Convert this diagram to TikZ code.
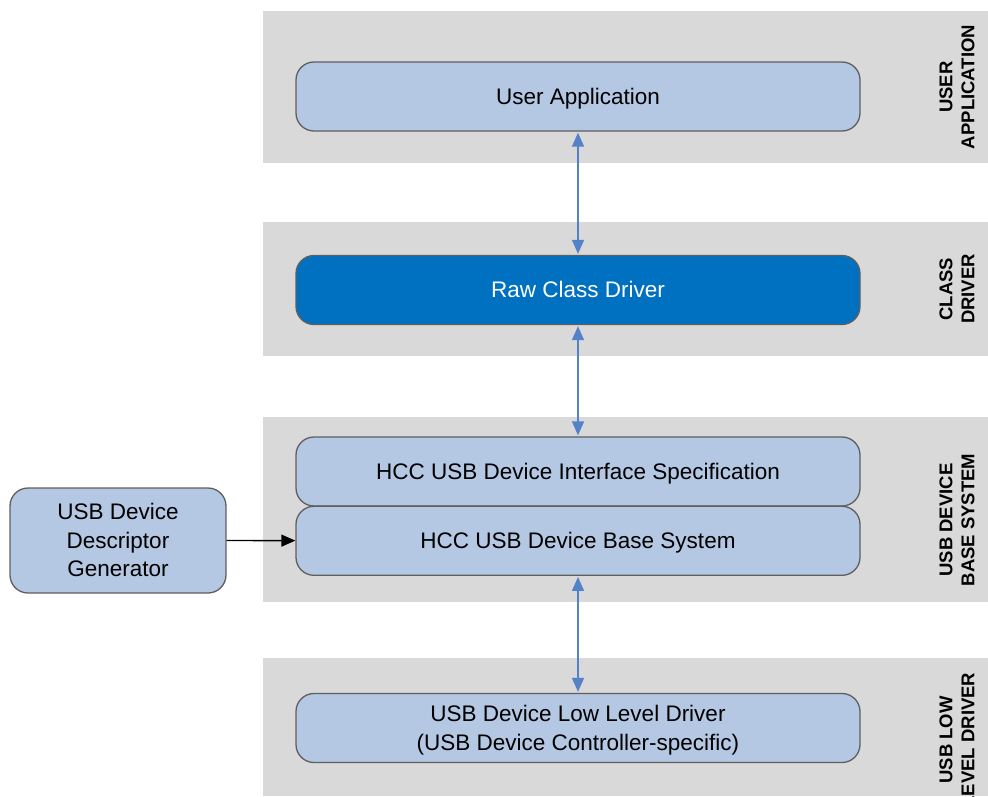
\documentclass[tikz,border=0pt]{standalone}
\usepackage{fontspec}
\setmainfont{Liberation Sans}
\usetikzlibrary{arrows.meta}
\usetikzlibrary{positioning}

\definecolor{bandgray}{RGB}{217,217,217}
\definecolor{boxblue}{RGB}{180,199,227}
\definecolor{rawblue}{RGB}{0,112,192}
\definecolor{edgegray}{RGB}{95,95,95}
\definecolor{linkblue}{RGB}{84,130,200}

\begin{document}
\begin{tikzpicture}[x=1pt, y=-1pt,
    layer/.style={rectangle, rounded corners=18pt, draw=edgegray, line width=1.3pt, fill=boxblue,
        minimum width=564pt, minimum height=69pt, align=center, text depth=1pt, font=\fontsize{22.5}{28.8}\selectfont},
    tag/.style={rotate=90, align=center, font=\fontsize{18.5}{22}\selectfont\bfseries},
    duplex/.style={linkblue, line width=1.5pt, {Triangle[length=14pt,width=12pt]}-{Triangle[length=14pt,width=12pt]}},
    feed/.style={black, line width=1.3pt, -{Triangle[length=14pt,width=12pt]}},
    node distance=0pt]
    \useasboundingbox (0,0) rectangle (988,796);

    % layer bands
    \fill[bandgray] (263,11) rectangle (988,163);
    \fill[bandgray] (263,222) rectangle (988,356);
    \fill[bandgray] (263,417) rectangle (988,602);
    \fill[bandgray] (263,658) rectangle (988,796);

    \node[layer] (app) at (578,96.5) {User Application};
    \node[layer, fill=rawblue, text=white] (raw) at (578,290) {Raw Class Driver};
    \node[layer] (spec) at (578,471.5) {HCC USB Device Interface Specification};
    \node[layer, below=-1pt of spec] (base) {HCC USB Device Base System};
    \node[layer] (lld) at (578,728) {USB Device Low Level Driver\\(USB Device Controller-specific)};
    \node[layer, minimum width=216pt, minimum height=105pt] (gen) at (118,540.5) {USB Device\\Descriptor\\Generator};

    \node[tag] (tapp) at (957,87) {USER\\APPLICATION};
    \node[tag] (traw) at (957,289) {CLASS\\DRIVER};
    \node[tag] (tbase) at (957,520) {USB DEVICE\\BASE SYSTEM};
    \node[tag] (tlld) at (957,740) {USB LOW\\LEVEL DRIVER};

    \draw[duplex, shorten <=1pt, shorten >=1pt] (app) -- (raw);
    \draw[duplex, shorten <=1pt, shorten >=1pt] (raw) -- (spec);
    \draw[duplex, shorten <=1pt, shorten >=1pt] (base) -- (lld);
    \draw[feed] (gen) -- (base);
\end{tikzpicture}
\end{document}
